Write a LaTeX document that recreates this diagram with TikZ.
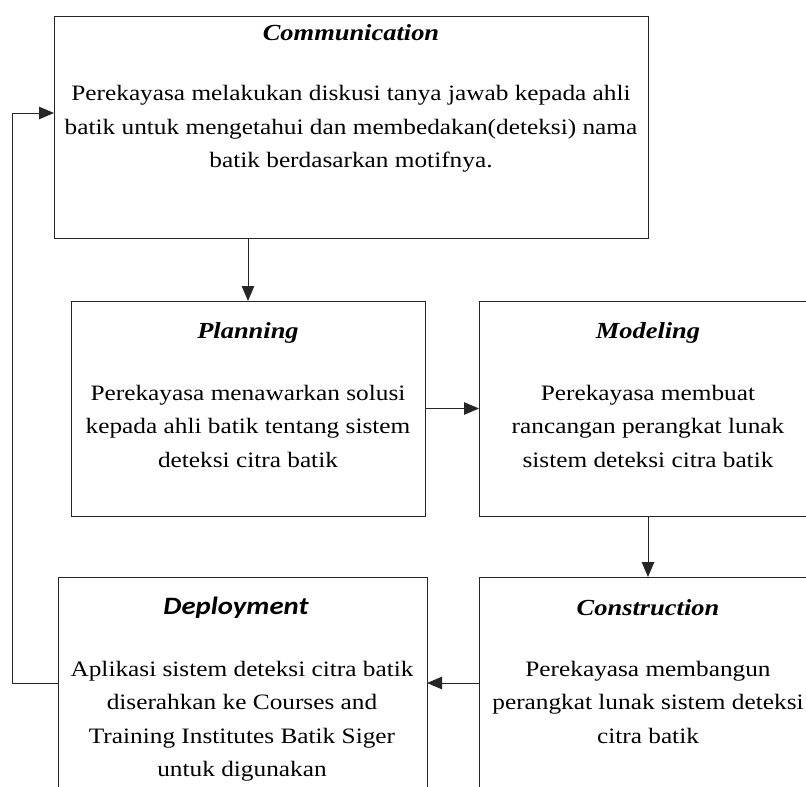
\documentclass[tikz,border=0pt]{standalone}
\usepackage{fontspec}
\setmainfont{Liberation Serif}[FakeStretch=1.15]
\newfontfamily\calibrilike{Carlito}[FakeStretch=1.15]
\usetikzlibrary{arrows.meta}

\begin{document}
\begin{tikzpicture}[x=1pt,y=-1pt,
  frame/.style={draw=none,rectangle,anchor=north west,inner sep=0pt,outer sep=0pt},
  edge/.style={draw=black!85,line width=1pt},
  flow/.style={edge,-{Triangle[length=15pt,width=12.5pt]}},
  title/.style={font=\fontsize{23}{33}\selectfont\bfseries\itshape,inner sep=0pt},
  body/.style={font=\fontsize{22}{33.5}\selectfont,align=center,inner sep=0pt}]
\useasboundingbox (0,0) rectangle (806,787);

% phase boxes (invisible frames, borders drawn below)
\node[frame,minimum width=594pt,minimum height=222pt] (comm) at (54,16) {};
\node[frame,minimum width=354pt,minimum height=215pt] (plan) at (71,301) {};
\node[frame,minimum width=338pt,minimum height=215pt] (model) at (479,301) {};
\node[frame,minimum width=338pt,minimum height=212pt] (cons) at (479,577) {};
\node[frame,minimum width=369pt,minimum height=212pt] (depl) at (58,577) {};

% borders; the right and bottom boxes run past the page edge
\draw[edge] (comm.north west) rectangle (comm.south east);
\draw[edge] (plan.north west) rectangle (plan.south east);
\draw[edge] (806,301) -- (model.north west) -- (model.south west) -- (806,516);
\draw[edge] (806,577) -- (cons.north west) -- (479,787);
\draw[edge] (58,787) -- (depl.north west) -- (depl.north east) -- (427,787);

% texts
\node[title] (commT) at (351,33) {Communication};
\node[body] (commB) at (351,129) {Perekayasa melakukan diskusi tanya jawab kepada ahli\\batik untuk mengetahui dan membedakan(deteksi) nama\\batik berdasarkan motifnya.};

\node[title] (planT) at (248,333) {Planning};
\node[body] (planB) at (248,426) {Perekayasa menawarkan solusi\\kepada ahli batik tentang sistem\\deteksi citra batik};

\node[title] (modelT) at (648,333) {Modeling};
\node[body] (modelB) at (648,426) {Perekayasa membuat\\rancangan perangkat lunak\\sistem deteksi citra batik};

\node[title] (consT) at (648,608) {Construction};
\node[body] (consB) at (648,702) {Perekayasa membangun\\perangkat lunak sistem deteksi\\citra batik};

\node[title,font=\fontsize{25}{33}\selectfont\calibrilike\bfseries\itshape] (deplT) at (236,608) {Deployment};
\node[body] (deplB) at (242,721) {Aplikasi sistem deteksi citra batik\\diserahkan ke Courses and\\Training Institutes Batik Siger\\untuk digunakan};

% connectors
\coordinate (fbtop) at (12,113);
\draw[flow] (plan.north |- comm.south) -- (plan.north);
\draw[flow] (plan.east) -- (model.west);
\draw[flow] (model.south) -- (cons.north);
\draw[flow] (cons.west) -- (depl.east);
\draw[flow] (depl.west) -| (fbtop) -- (comm.west |- fbtop);
\end{tikzpicture}
\end{document}
